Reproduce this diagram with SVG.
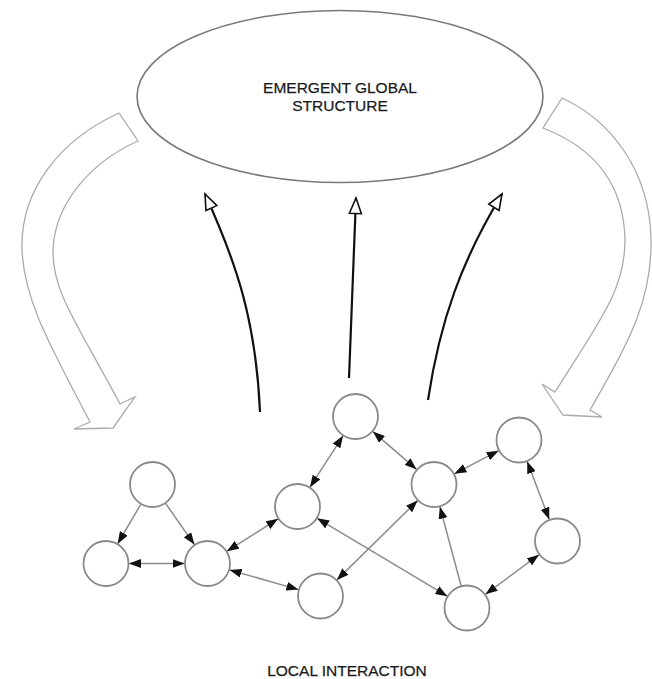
<svg xmlns="http://www.w3.org/2000/svg" width="652" height="679" viewBox="0 0 652 679">
  <style>
    .label { font-family: "Liberation Sans", Arial, sans-serif; font-size: 15.5px; fill: #1a1a1a; stroke: #1a1a1a; stroke-width: 0.25; text-anchor: middle; }
    .node { fill: #fff; stroke: #8a8a8a; stroke-width: 1.8; }
    .edge { fill: none; stroke: #8c8c8c; stroke-width: 1.5; }
    .rise { fill: none; stroke: #111; stroke-width: 2.2; }
    .bigarrow { fill: #fff; stroke: #ababab; stroke-width: 1.3; stroke-linejoin: miter; }
    .global { fill: #fff; stroke: #7a7a7a; stroke-width: 1.6; }
  </style>
  <defs>
    <marker id="tri" markerUnits="userSpaceOnUse" markerWidth="12" markerHeight="9" viewBox="0 0 12 9" refX="12" refY="4.5" orient="auto-start-reverse">
      <path d="M0,0 L12,4.5 L0,9 z" fill="#111"/>
    </marker>
    <marker id="open" markerUnits="userSpaceOnUse" markerWidth="19" markerHeight="15" viewBox="0 0 19 15" refX="17" refY="7.5" orient="auto">
      <path d="M1.5,1.5 L17,7.5 L1.5,13.5 z" fill="#fff" stroke="#111" stroke-width="1.6" stroke-linejoin="miter"/>
    </marker>
  </defs>

  <!-- global structure -->
  <g id="global">
    <ellipse class="global" cx="340" cy="96.5" rx="203" ry="86"/>
    <text class="label" x="340" y="93">EMERGENT GLOBAL</text>
    <text class="label" x="340" y="111">STRUCTURE</text>
  </g>

  <!-- downward feedback arrows -->
  <g id="feedback-left">
    <path class="bigarrow" d="M119,113 C60,140 20,190 22,250 C24,300 50,345 90,422 L74,429 L113,428 L135,397 L120,404 C75,320 52,290 53,250 C55,200 95,160 138,141 Z"/>
  </g>
  <g id="feedback-right">
    <path class="bigarrow" d="M562,98 C610,120 650,170 651,240 C652,300 630,340 590,410 L602,417 L563,415 L542,384 L555,392 C600,320 625,290 625,240 C624,190 600,150 543,128 Z"/>
  </g>

  <!-- upward emergence arrows -->
  <g id="emergence">
    <path class="rise" d="M260,412 C256,320 236,262 205,194" marker-end="url(#open)"/>
    <path class="rise" d="M349,378 L356,198" marker-end="url(#open)"/>
    <path class="rise" d="M428,400 C440,320 462,260 502,194" marker-end="url(#open)"/>
  </g>

  <!-- local interaction links -->
  <g id="connectors">
    <line class="edge" x1="140.8" y1="504.3" x2="117.7" y2="543.7" marker-end="url(#tri)"/>
    <line class="edge" x1="165.6" y1="503.4" x2="194.4" y2="544.6" marker-end="url(#tri)"/>
    <line class="edge" x1="129" y1="563.5" x2="184.5" y2="563.5" marker-start="url(#tri)" marker-end="url(#tri)"/>
    <line class="edge" x1="226.9" y1="551.2" x2="278.1" y2="518.8" marker-start="url(#tri)" marker-end="url(#tri)"/>
    <line class="edge" x1="229.6" y1="569.9" x2="298.4" y2="589.6" marker-start="url(#tri)" marker-end="url(#tri)"/>
    <line class="edge" x1="310" y1="487.2" x2="343" y2="435.8" marker-start="url(#tri)" marker-end="url(#tri)"/>
    <line class="edge" x1="317.2" y1="518.3" x2="447.3" y2="596.2" marker-start="url(#tri)" marker-end="url(#tri)"/>
    <line class="edge" x1="372.9" y1="431.6" x2="416.6" y2="469.4" marker-start="url(#tri)" marker-end="url(#tri)"/>
    <line class="edge" x1="454.4" y1="473.8" x2="498.6" y2="450.7" marker-start="url(#tri)" marker-end="url(#tri)"/>
    <line class="edge" x1="527.2" y1="461.5" x2="549.3" y2="519.5" marker-start="url(#tri)" marker-end="url(#tri)"/>
    <line class="edge" x1="539" y1="554.7" x2="485.5" y2="594.3" marker-start="url(#tri)" marker-end="url(#tri)"/>
    <line class="edge" x1="461.1" y1="585.8" x2="439.9" y2="506.7" marker-end="url(#tri)"/>
    <line class="edge" x1="336.9" y1="579.9" x2="417.6" y2="500.6" marker-start="url(#tri)" marker-end="url(#tri)"/>
  </g>

  <!-- agents -->
  <g id="node-a"><circle class="node" cx="152.5" cy="484.5" r="22.5"/></g>
  <g id="node-b"><circle class="node" cx="106" cy="563.5" r="22.5"/></g>
  <g id="node-c"><circle class="node" cx="207.5" cy="563.5" r="22.5"/></g>
  <g id="node-d"><circle class="node" cx="297.5" cy="506.5" r="22.5"/></g>
  <g id="node-e"><circle class="node" cx="355.5" cy="416.5" r="22.5"/></g>
  <g id="node-f"><circle class="node" cx="434" cy="484.5" r="22.5"/></g>
  <g id="node-g"><circle class="node" cx="519" cy="440" r="22.5"/></g>
  <g id="node-h"><circle class="node" cx="557.5" cy="541" r="22.5"/></g>
  <g id="node-i"><circle class="node" cx="320.5" cy="596" r="22.5"/></g>
  <g id="node-j"><circle class="node" cx="467" cy="608" r="22.5"/></g>

  <g id="caption">
    <text class="label" x="347" y="676">LOCAL INTERACTION</text>
  </g>
</svg>
